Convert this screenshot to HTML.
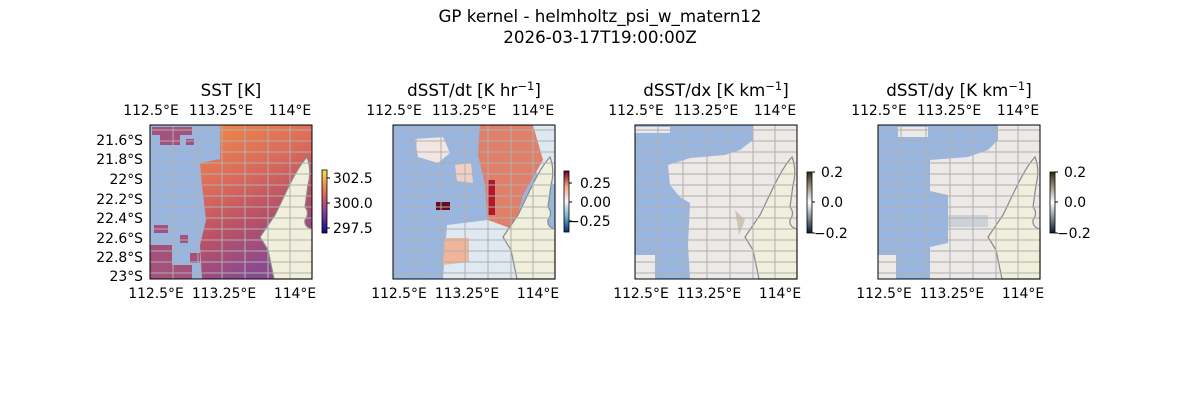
<!DOCTYPE html><html><head><style>body{margin:0;background:#fff}svg{display:block;font-family:"DejaVu Sans","Liberation Sans",sans-serif}</style></head><body>
<svg width="1200" height="400" viewBox="0 0 1200 400">
<defs>
<linearGradient id="g1" x1="0" y1="0" x2="0.35" y2="1"><stop offset="0" stop-color="#ef8a45"/><stop offset="0.4" stop-color="#dc6a5a"/><stop offset="0.7" stop-color="#b85068"/><stop offset="1" stop-color="#8a4a90"/></linearGradient>
<linearGradient id="cb1" x1="0" y1="1" x2="0" y2="0"><stop offset="0" stop-color="#0d0887"/><stop offset="0.3" stop-color="#7e3a9e"/><stop offset="0.6" stop-color="#e0605a"/><stop offset="1" stop-color="#f8e040"/></linearGradient>
<linearGradient id="cb2" x1="0" y1="1" x2="0" y2="0"><stop offset="0" stop-color="#08306b"/><stop offset="0.25" stop-color="#6aaed6"/><stop offset="0.5" stop-color="#f7f7f7"/><stop offset="0.75" stop-color="#f4a582"/><stop offset="1" stop-color="#67001f"/></linearGradient>
<linearGradient id="cb3" x1="0" y1="1" x2="0" y2="0"><stop offset="0" stop-color="#0a1a30"/><stop offset="0.5" stop-color="#ffffff"/><stop offset="1" stop-color="#3a2a10"/></linearGradient>
<g id="land"><path d="M157,32 C145,45 135,70 125,90 L110,112 L118,125 L124,154 L162,154 L162,104 Q154,102 155,95 Q160,88 155,82 L158,60 Q162,45 157,32 Z" fill="#efefdc" stroke="#888" stroke-width="1.2"/></g>
<g id="grid" stroke="#b0b0b0" stroke-width="1" fill="none">
<path d="M23,0V154M48,0V154M72,0V154M95,0V154M118,0V154M140,0V154"/>
<path d="M0,5H162M0,16H162M0,27H162M0,38H162M0,49H162M0,60H162M0,71H162M0,82H162M0,93H162M0,104H162M0,115H162M0,126H162M0,137H162M0,148H162"/>
</g>
</defs>
<text x="600" y="22" font-size="16.7" text-anchor="middle">GP kernel - helmholtz_psi_w_matern12</text>
<text x="600" y="43" font-size="16.7" text-anchor="middle">2026-03-17T19:00:00Z</text>

<!-- Panel 1 -->
<g transform="translate(150,125)">
<rect width="162" height="154" fill="#99b6e0"/>
<path d="M70,0 L162,0 L162,154 L52,154 L50,120 L56,95 L52,60 L50,38 L70,34 Z" fill="url(#g1)"/>
<g fill="#a4517c"><rect x="2" y="2" width="40" height="8"/><rect x="10" y="10" width="20" height="10"/><rect x="36" y="14" width="8" height="6"/><rect x="4" y="100" width="14" height="8"/><rect x="0" y="120" width="22" height="34"/><rect x="22" y="140" width="20" height="14"/><rect x="30" y="110" width="8" height="8"/><rect x="40" y="128" width="10" height="10"/></g>
<use href="#land"/><use href="#grid"/>
<rect width="162" height="154" fill="none" stroke="#000" stroke-width="1"/>
</g>
<!-- Panel 2 -->
<g transform="translate(393,125)">
<rect width="162" height="154" fill="#99b6e0"/>
<path d="M130,0 L162,0 L162,60 L140,45 Z" fill="#dce8f2"/>
<path d="M87,0 L140,0 L150,35 L130,70 L125,90 L120,105 L95,108 L92,60 L85,30 Z" fill="#e0806a"/>
<path d="M54,100 L95,95 L122,105 L124,154 L50,154 Z" fill="#dfe9f2"/>
<path d="M52,113 L76,113 L76,137 L50,140 Z" fill="#f1b59a"/>
<path d="M22,14 L50,12 L57,28 L45,38 L25,32 Z" fill="#f2e6e2"/>
<path d="M62,40 L78,38 L80,58 L64,56 Z" fill="#f0d0c4"/>
<rect x="43" y="77" width="14" height="8" fill="#6a0a22"/><rect x="95" y="55" width="7" height="35" fill="#b2182b"/>
<use href="#land"/><use href="#grid"/>
<rect width="162" height="154" fill="none" stroke="#000"/>
</g>
<!-- Panel 3 -->
<g transform="translate(635,125)">
<rect width="162" height="154" fill="#99b6e0"/>
<path d="M118,0 L162,0 L162,154 L55,154 L53,120 L55,78 L45,72 L35,60 L33,40 L55,33 L90,30 L105,25 L118,15 Z" fill="#ece9e6"/>
<rect x="0" y="2" width="35" height="6" fill="#ece9e6"/><rect x="0" y="130" width="20" height="24" fill="#ece9e6"/>
<path d="M100,85 L110,95 L104,110 Z" fill="#cfc4b4"/>
<use href="#land"/><use href="#grid"/>
<rect width="162" height="154" fill="none" stroke="#000"/>
</g>
<!-- Panel 4 -->
<g transform="translate(878,125)">
<rect width="162" height="154" fill="#99b6e0"/>
<path d="M120,0 L162,0 L162,154 L52,154 L52,122 L70,118 L70,70 L52,66 L52,35 L90,32 L110,25 L120,15 Z" fill="#ece9e6"/>
<rect x="20" y="2" width="30" height="10" fill="#ece9e6"/><rect x="0" y="130" width="18" height="24" fill="#ece9e6"/>
<rect x="70" y="90" width="40" height="12" fill="#cdd2d8"/>
<use href="#land"/><use href="#grid"/>
<rect width="162" height="154" fill="none" stroke="#000"/>
</g>

<g font-size="16.7" text-anchor="middle">
<text x="231" y="96">SST [K]</text>
<text x="474" y="96">dSST/dt [K hr<tspan dy="-6" font-size="11.5">−1</tspan><tspan dy="6">]</tspan></text>
<text x="716" y="96">dSST/dx [K km<tspan dy="-6" font-size="11.5">−1</tspan><tspan dy="6">]</tspan></text>
<text x="959" y="96">dSST/dy [K km<tspan dy="-6" font-size="11.5">−1</tspan><tspan dy="6">]</tspan></text>
</g>
<g font-size="13.9" text-anchor="middle">
<g id="xt"><text x="151" y="115">112.5°E</text><text x="221" y="115">113.25°E</text><text x="290" y="115">114°E</text><text x="156" y="298">112.5°E</text><text x="224" y="298">113.25°E</text><text x="295" y="298">114°E</text></g>
<use href="#xt" x="243"/><use href="#xt" x="485"/><use href="#xt" x="728"/>
</g>
<g font-size="13.9" text-anchor="end">
<text x="143" y="145">21.6°S</text><text x="143" y="164">21.8°S</text><text x="143" y="184">22°S</text><text x="143" y="204">22.2°S</text><text x="143" y="223">22.4°S</text><text x="143" y="243">22.6°S</text><text x="143" y="262">22.8°S</text><text x="143" y="281">23°S</text>
</g>
<g font-size="13.9">
<rect x="322" y="170" width="5" height="63" fill="url(#cb1)" stroke="#000" stroke-width="0.8"/>
<path d="M327,178h3M327,203h3M327,228h3" stroke="#000"/>
<text x="333" y="183">302.5</text><text x="333" y="208">300.0</text><text x="333" y="233">297.5</text>
<rect x="564" y="171" width="5" height="61" fill="url(#cb2)" stroke="#000" stroke-width="0.8"/>
<path d="M569,183h3M569,202h3M569,221h3" stroke="#000"/>
<text x="580" y="188">0.25</text><text x="580" y="207">0.00</text><text x="568" y="226">−0.25</text>
<rect x="807" y="172" width="5" height="61" fill="url(#cb3)" stroke="#000" stroke-width="0.8"/>
<path d="M812,172h3M812,202h3M812,233h3" stroke="#000"/>
<text x="821" y="177">0.2</text><text x="821" y="207">0.0</text><text x="814" y="238">−0.2</text>
<rect x="1050" y="172" width="5" height="61" fill="url(#cb3)" stroke="#000" stroke-width="0.8"/>
<path d="M1055,172h3M1055,202h3M1055,233h3" stroke="#000"/>
<text x="1064" y="177">0.2</text><text x="1064" y="207">0.0</text><text x="1057" y="238">−0.2</text>
</g>
</svg></body></html>
